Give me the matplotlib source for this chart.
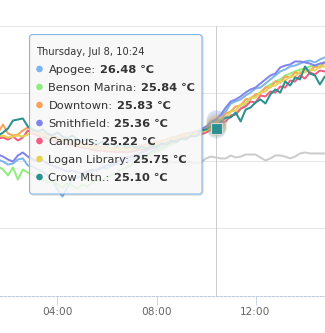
import numpy as np
import matplotlib
matplotlib.use("Agg")
import matplotlib.pyplot as plt
from matplotlib.patches import FancyBboxPatch, Circle

# ---------------- data ----------------
minutes = np.arange(96, 901, 12)          # 01:36 .. 15:00, 12-minute readings
hours = minutes / 60.0

series_names = ["Apogee", "Benson Marina", "Downtown", "Smithfield",
                "Campus", "Logan Library", "Crow Mtn."]
series_colors = ["#7cb5ec", "#90ed7d", "#f7a35c", "#8085e9",
                 "#f15c80", "#e4d354", "#2b908f"]

apogee = [22.61, 22.46, 22.24, 22.31, 22.61, 22.69, 22.17, 22.09, 21.87, 21.72,
          21.43, 20.98, 20.39, 19.87, 20.54, 21.13, 21.28, 21.43, 21.57, 21.72,
          21.87, 22.02, 21.94, 22.17, 22.31, 22.24, 22.46, 22.61, 22.76, 22.91,
          22.98, 23.20, 23.35, 23.50, 23.65, 23.80, 24.02, 24.17, 24.31, 24.39,
          24.54, 24.76, 24.98, 25.28, 25.57, 25.87, 26.17, 26.76, 26.91, 27.06,
          27.35, 27.57, 27.87, 27.94, 28.24, 28.54, 28.83, 29.13, 29.28, 29.50,
          29.57, 29.72, 29.87, 29.94, 29.80, 30.02, 30.17, 30.17]
benson = [22.09, 21.87, 21.43, 22.02, 21.13, 21.87, 21.65, 21.50, 21.28, 21.13,
          20.91, 21.06, 20.76, 20.54, 20.83, 20.69, 20.46, 20.76, 20.61, 20.91,
          21.13, 20.98, 21.28, 21.43, 21.65, 21.87, 22.02, 22.24, 22.46, 22.69,
          22.83, 23.06, 23.20, 23.35, 23.57, 23.72, 23.94, 24.09, 24.24, 24.31,
          24.46, 24.54, 24.61, 24.91, 25.20, 25.50, 25.65, 25.80, 26.02, 26.31,
          26.76, 27.06, 27.35, 27.57, 27.94, 28.17, 28.39, 28.54, 28.83, 28.98,
          29.13, 29.28, 29.35, 29.50, 29.57, 29.65, 29.80, 29.80]
downtown = [24.61, 25.20, 24.54, 24.39, 24.46, 24.76, 24.98, 24.83, 24.69, 24.54,
            24.46, 24.31, 24.24, 24.09, 24.02, 23.94, 23.87, 23.80, 23.72, 23.65,
            23.57, 23.57, 23.50, 23.50, 23.43, 23.50, 23.43, 23.50, 23.57, 23.65,
            23.72, 23.80, 23.87, 24.02, 24.09, 24.24, 24.31, 24.46, 24.54, 24.61,
            24.69, 24.76, 24.91, 25.13, 25.35, 25.57, 26.02, 26.17, 26.54, 26.61,
            27.06, 27.13, 27.43, 27.50, 27.94, 27.94, 28.39, 28.31, 28.76, 28.69,
            29.06, 28.98, 29.28, 29.20, 29.50, 29.43, 29.80, 29.87]
smithfield = [22.98, 22.83, 22.61, 22.46, 22.91, 23.13, 22.83, 22.61, 22.46, 22.54,
              22.31, 22.17, 22.02, 21.87, 21.72, 21.80, 21.65, 21.57, 21.72, 21.87,
              21.80, 22.02, 22.17, 22.24, 22.46, 22.61, 22.76, 22.83, 22.98, 23.13,
              23.28, 23.43, 23.57, 23.72, 23.87, 24.02, 24.17, 24.31, 24.39, 24.54,
              24.61, 24.83, 25.06, 25.35, 25.57, 25.94, 26.46, 26.91, 27.06, 27.28,
              27.57, 27.80, 27.94, 28.24, 28.54, 28.83, 28.98, 29.43, 29.57, 29.65,
              29.87, 29.87, 29.80, 29.72, 29.57, 29.72, 29.80, 29.80]
campus = [24.17, 24.24, 24.09, 24.31, 24.02, 24.24, 24.76, 24.54, 24.39, 24.24,
          24.17, 24.02, 23.94, 23.80, 23.72, 23.65, 23.57, 23.50, 23.43, 23.35,
          23.28, 23.28, 23.20, 23.20, 23.13, 23.20, 23.13, 23.20, 23.28, 23.35,
          23.43, 23.50, 23.57, 23.72, 23.80, 23.94, 24.02, 24.17, 24.24, 24.31,
          24.39, 24.46, 24.61, 24.83, 25.06, 25.36, 25.43, 25.87, 25.94, 26.39,
          26.54, 26.91, 26.83, 27.35, 27.28, 27.65, 27.57, 28.02, 27.94, 28.46,
          28.39, 28.83, 28.61, 29.06, 28.91, 29.20, 29.13, 29.43]
logan = [24.31, 24.39, 24.24, 24.31, 24.39, 24.31, 24.46, 24.69, 24.54, 24.39,
         24.31, 24.17, 24.09, 23.94, 23.87, 23.80, 23.72, 23.65, 23.57, 23.50,
         23.43, 23.43, 23.35, 23.35, 23.28, 23.35, 23.28, 23.35, 23.43, 23.50,
         23.57, 23.65, 23.72, 23.87, 23.94, 24.09, 24.17, 24.31, 24.39, 24.46,
         24.54, 24.61, 24.76, 24.98, 25.20, 25.57, 25.72, 26.17, 26.24, 26.69,
         26.76, 27.20, 27.20, 27.57, 27.65, 28.02, 28.09, 28.39, 28.46, 28.76,
         28.76, 29.13, 29.06, 29.28, 29.20, 29.50, 29.50, 29.72]
crow = [24.39, 24.61, 24.91, 25.50, 25.57, 25.65, 25.06, 24.83, 24.69, 24.83,
        24.54, 24.39, 24.61, 24.31, 24.17, 24.39, 24.09, 23.94, 24.17, 23.87,
        23.72, 23.94, 23.65, 23.80, 23.57, 23.72, 23.50, 23.65, 23.43, 23.57,
        23.35, 23.65, 23.50, 23.80, 23.72, 24.02, 23.87, 24.17, 24.09, 24.39,
        24.31, 24.76, 24.83, 25.06, 24.98, 25.43, 25.72, 25.72, 26.09, 25.43,
        26.31, 26.46, 26.83, 27.06, 26.76, 27.43, 27.80, 27.57, 28.39, 28.09,
        28.69, 28.54, 29.50, 28.98, 28.83, 28.17, 28.76, 28.69]
reference_gray = [None] * 30 + [
        22.46, 22.54, 22.39, 22.46, 22.31, 22.46, 22.39, 22.54, 22.46, 22.39,
        22.31, 22.39, 22.69, 22.83, 22.76, 22.69, 22.69, 22.91, 22.76, 22.83,
        22.98, 22.98, 22.98, 22.76, 22.54, 22.69, 22.91, 22.91, 22.83, 22.69,
        22.83, 23.06, 23.13, 23.06, 23.06, 23.06, 23.06, 23.06]

series_values = [apogee, benson, downtown, smithfield, campus, logan, crow]

tooltip_header = "Thursday, Jul 8, 10:24"
tooltip_values = ["26.48", "25.84", "25.83", "25.36", "25.22", "25.75", "25.10"]
hover_hour = 10.4
hover_index = 44

xtick_hours = [4, 8, 12]
xtick_labels = ["04:00", "08:00", "12:00"]
grid_values = [17.5, 22.5, 27.5, 32.5]

# ---------------- figure ----------------
W, H = 325, 333
fig = plt.figure(figsize=(W / 100, H / 100), dpi=100)
PX = 0.72  # one pixel in points

ax = fig.add_axes([0, 37 / H, 1, 296 / H])
ax.set_xlim(1.6768, 14.808)
ax.set_ylim(12.5, 12.5 + 296 / 13.5)

ax.set_yticks(grid_values)
ax.yaxis.grid(True, color="#e6e6e6", lw=PX)
ax.tick_params(axis="y", left=False, labelleft=False)
ax.set_axisbelow(True)
for s in ("top", "left", "right"):
    ax.spines[s].set_visible(False)
ax.spines["bottom"].set_color("#c3cde0")
ax.spines["bottom"].set_linewidth(PX)
ax.spines["bottom"].set_linestyle((0, (2.5, 1.5)))

ax.set_xticks(xtick_hours)
ax.set_xticklabels(xtick_labels)
ax.tick_params(axis="x", length=9 * PX, width=PX, color="#ccd6eb",
               labelcolor="#666666", labelsize=7.6, pad=1.5)

# gray line
gray = np.array([np.nan if v is None else v for v in reference_gray])
ax.plot(hours, gray, color="#cccccc", lw=2 * PX, solid_joinstyle="round", zorder=2)

for vals, col in zip(series_values, series_colors):
    ax.plot(hours, vals, color=col, lw=2 * PX, solid_joinstyle="round", zorder=3)

# crosshair
ax.plot([hover_hour, hover_hour], [12.5, 32.5], color="#cccccc", lw=PX, zorder=1)

# halos + hover marker
for vals, col in zip(series_values, series_colors):
    ax.scatter([hours[hover_index]], [vals[hover_index]], s=(20 * PX) ** 2,
               color=col, alpha=0.18, lw=0, zorder=4)
ax.plot([hours[hover_index]], [crow[hover_index]], marker="s", ms=11 * PX,
        mfc="#2b908f", mec="#d9d9d9", mew=0.8, zorder=5)

# ---------------- tooltip overlay ----------------
ov = fig.add_axes([0, 0, 1, 1], zorder=10)
ov.set_xlim(0, W)
ov.set_ylim(H, 0)
ov.axis("off")
ov.patch.set_alpha(0)

shadow = FancyBboxPatch((30.5, 35.5), 172.5, 159.5,
                        boxstyle="round,pad=0,rounding_size=3",
                        fc="none", ec="#000000", alpha=0.12, lw=1.2)
ov.add_patch(shadow)
box = FancyBboxPatch((29.5, 34.5), 172.5, 159.5,
                     boxstyle="round,pad=0,rounding_size=3",
                     fc=(247 / 255, 247 / 255, 247 / 255, 0.86),
                     ec="#7cb5ec", lw=PX)
ov.add_patch(box)

ov.text(36, 55, tooltip_header, fontsize=7.1, color="#333333",
        ha="left", va="baseline")

for k, (name, val, col) in enumerate(zip(series_names, tooltip_values, series_colors)):
    base = 73 + 18 * k
    ov.add_patch(Circle((39.5, base - 4), 3.3, color=col, lw=0))
    t = ov.text(48.5, base, name + ":", fontsize=8.2, color="#333333",
                ha="left", va="baseline")
    ov.annotate(" " + val + " \u2103", xy=(1, 0), xycoords=t, fontsize=8.2,
                fontweight="bold", color="#333333", ha="left", va="bottom")

fig.savefig("out.png", dpi=100)
